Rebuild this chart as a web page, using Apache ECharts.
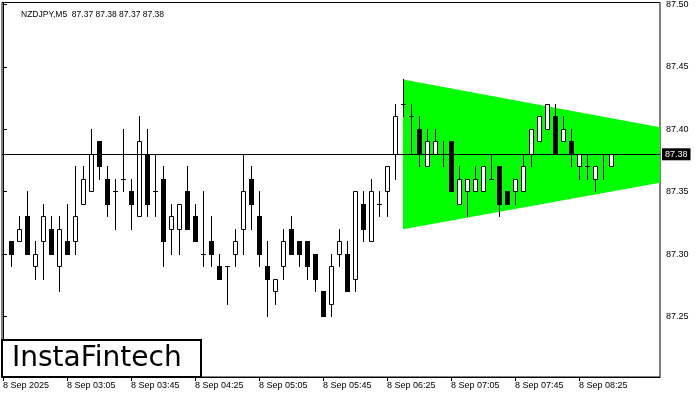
<!DOCTYPE html>
<html>
<head>
<meta charset="utf-8">
<script src="https://cdn.jsdelivr.net/npm/echarts@6/dist/echarts.min.js"></script>
<style>html,body{margin:0;padding:0;background:#fff}#c{width:700px;height:400px}</style>
</head>
<body>
<div id="c"></div>
<script>
// ---- data ----
const symbolTitle = 'NZDJPY,M5  87.37 87.38 87.37 87.38';
const openP  = [87.30,87.31,87.31,87.33,87.29,87.31,87.32,87.29,87.31,87.31,87.34,87.35,87.39,87.36,87.35,87.36,87.35,87.33,87.38,87.35,87.36,87.32,87.32,87.35,87.33,87.30,87.31,87.29,87.29,87.30,87.32,87.36,87.33,87.29,87.27,87.29,87.32,87.31,87.31,87.30,87.27,87.26,87.30,87.30,87.28,87.34,87.31,87.34,87.35,87.38,87.42,87.41,87.40,87.37,87.38,87.38,87.39,87.34,87.35,87.35,87.35,87.36,87.37,87.35,87.35,87.35,87.38,87.39,87.40,87.41,87.39,87.39,87.37,87.37,87.36,87.38,87.37];
const highP  = [87.32,87.31,87.33,87.35,87.31,87.34,87.33,87.33,87.34,87.37,87.37,87.40,87.39,87.37,87.36,87.40,87.36,87.41,87.40,87.38,87.37,87.34,87.34,87.37,87.34,87.35,87.33,87.30,87.29,87.32,87.38,87.37,87.35,87.31,87.28,87.32,87.33,87.31,87.31,87.30,87.27,87.30,87.32,87.31,87.35,87.35,87.36,87.35,87.37,87.42,87.44,87.42,87.41,87.40,87.40,87.39,87.39,87.37,87.36,87.37,87.37,87.38,87.37,87.35,87.36,87.38,87.40,87.41,87.42,87.42,87.41,87.40,87.38,87.38,87.37,87.38,87.38];
const lowP   = [87.29,87.29,87.31,87.30,87.28,87.28,87.30,87.27,87.30,87.30,87.34,87.35,87.36,87.33,87.32,87.35,87.32,87.33,87.33,87.33,87.29,87.30,87.30,87.32,87.31,87.29,87.29,87.28,87.26,87.29,87.30,87.32,87.29,87.25,87.26,87.28,87.30,87.29,87.28,87.27,87.25,87.25,87.29,87.27,87.27,87.31,87.31,87.33,87.33,87.36,87.41,87.38,87.37,87.37,87.38,87.37,87.35,87.34,87.33,87.35,87.35,87.36,87.33,87.34,87.34,87.35,87.37,87.39,87.40,87.38,87.39,87.37,87.36,87.36,87.35,87.36,87.37];
const closeP = [87.30,87.30,87.32,87.30,87.30,87.33,87.30,87.32,87.30,87.33,87.36,87.38,87.37,87.34,87.35,87.36,87.34,87.39,87.34,87.35,87.31,87.33,87.34,87.32,87.31,87.30,87.30,87.28,87.29,87.31,87.35,87.34,87.30,87.28,87.28,87.31,87.30,87.30,87.29,87.28,87.25,87.29,87.31,87.27,87.35,87.32,87.35,87.34,87.37,87.41,87.42,87.41,87.38,87.39,87.39,87.38,87.35,87.36,87.36,87.36,87.37,87.36,87.34,87.34,87.36,87.37,87.40,87.41,87.42,87.38,87.40,87.38,87.38,87.37,87.37,87.38,87.38];
const xTickIdx    = [0, 8, 16, 24, 32, 40, 48, 56, 64, 72];
const xTickLabels = ['8 Sep 2025','8 Sep 03:05','8 Sep 03:45','8 Sep 04:25','8 Sep 05:05','8 Sep 05:45','8 Sep 06:25','8 Sep 07:05','8 Sep 07:45','8 Sep 08:25'];
const yTickValues = [87.25, 87.30, 87.35, 87.40, 87.45, 87.50];
const currentPrice = 87.38;
// symmetrical triangle pattern (bar index, price)
const triX = [50, 101, 50];
const triY = [87.44, 87.379, 87.32];

// ---- chart ----
const FONT = 'Liberation Sans';
const candleData = openP.map((o, i) => [i, o, highP[i], lowP[i], closeP[i]]);

function py(api, i, p) { return Math.floor(api.coord([i, p])[1] + 1e-6); }

function renderCandle(params, api) {
  const i = api.value(0), o = api.value(1), h = api.value(2), l = api.value(3), c = api.value(4);
  const cx = Math.round(api.coord([i, o])[0]);
  const yO = py(api, i, o), yH = py(api, i, h), yL = py(api, i, l), yC = py(api, i, c);
  const ch = [{ type: 'rect', shape: { x: cx, y: yH, width: 1, height: yL - yH + 1 }, style: { fill: '#000' } }];
  if (o === c) {
    ch.push({ type: 'rect', shape: { x: cx - 2, y: yO, width: 5, height: 1 }, style: { fill: '#000' } });
  } else if (c > o) {
    ch.push({ type: 'rect', shape: { x: cx - 1.5, y: yC + 0.5, width: 4, height: yO - yC }, style: { fill: '#fff', stroke: '#000', lineWidth: 1 } });
  } else {
    ch.push({ type: 'rect', shape: { x: cx - 2, y: yO, width: 5, height: yC - yO + 1 }, style: { fill: '#000' } });
  }
  return { type: 'group', children: ch };
}

function renderTriangle(params, api) {
  const pts = triX.map((x, k) => api.coord([x, triY[k]]));
  return { type: 'polygon', shape: { points: pts }, style: { fill: '#00ff00' } };
}

const chart = echarts.init(document.getElementById('c'), null, { renderer: 'canvas' });
chart.setOption({
  animation: false,
  backgroundColor: '#fff',
  title: {
    text: symbolTitle, left: 16, top: 5,
    textStyle: { fontSize: 8.5, fontWeight: 'normal', color: '#000', fontFamily: FONT }
  },
  grid: { left: 2, top: 2, right: 40, bottom: 23, show: true, borderColor: '#000', borderWidth: 1 },
  xAxis: {
    type: 'value', min: -0.125, max: 82.125,
    axisLine: { show: true, lineStyle: { color: '#000' } },
    splitLine: { show: false },
    axisTick: { show: true, customValues: xTickIdx, length: 4, lineStyle: { color: '#000' } },
    axisLabel: {
      customValues: xTickIdx, align: 'left', margin: 4, fontSize: 9, color: '#000', fontFamily: FONT,
      formatter: v => xTickLabels[xTickIdx.indexOf(Math.round(v))]
    }
  },
  yAxis: {
    type: 'value', position: 'right', min: 87.2016, max: 87.5016,
    axisLine: { show: true, lineStyle: { color: '#000' } },
    splitLine: { show: false },
    axisTick: { show: true, customValues: yTickValues, length: 4, lineStyle: { color: '#000' } },
    axisLabel: {
      customValues: yTickValues, margin: 6, fontSize: 9, color: '#000', fontFamily: FONT,
      formatter: v => v.toFixed(2)
    }
  },
  series: [
    { type: 'custom', name: 'pattern', data: [[triX[0], triY[0]]], renderItem: renderTriangle, clip: true, z: 1, silent: true },
    { type: 'custom', name: 'NZDJPY', data: candleData, renderItem: renderCandle, clip: true, z: 2,
      encode: { x: 0, y: [1, 2, 3, 4] } },
    { type: 'line', name: 'bid', data: [], z: 5,
      markLine: {
        silent: true, symbol: ['none', 'none'], animation: false,
        lineStyle: { color: '#000', width: 1, type: 'solid' },
        label: {
          show: true, position: 'end', distance: 2, formatter: currentPrice.toFixed(2),
          color: '#fff', backgroundColor: '#000', padding: [2, 3, 1, 3], fontSize: 9, fontFamily: FONT
        },
        data: [{ yAxis: currentPrice }]
      }
    }
  ],
  graphic: [
    { type: 'rect', z: 100, shape: { x: 2, y: 340, width: 199, height: 37 }, style: { fill: '#fff', stroke: '#000', lineWidth: 2 } },
    { type: 'text', z: 101, x: 12, y: 359, style: { text: 'InstaFintech', font: '28px "DejaVu Sans"', fill: '#000', verticalAlign: 'middle' } }
  ]
});
</script>
</body>
</html>
